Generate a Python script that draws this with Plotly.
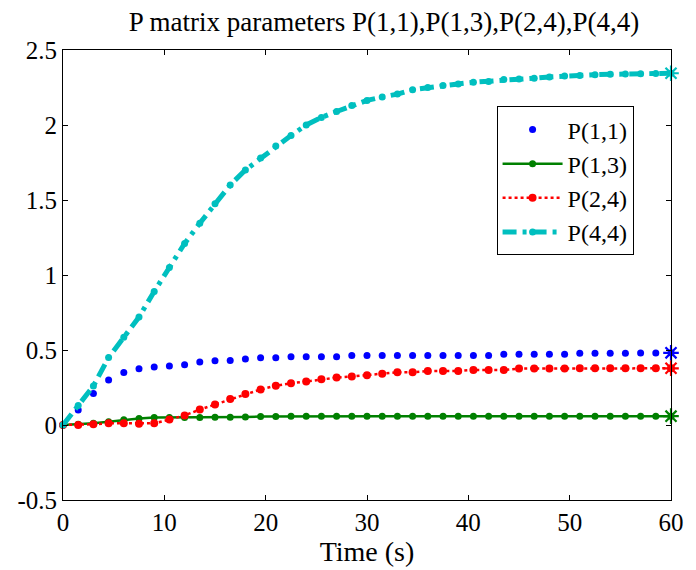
import plotly.graph_objects as go

# Time samples (s)
t = [0, 1.5, 3, 4.5, 6, 7.5, 9, 10.5, 12, 13.5, 15, 16.5, 18, 19.5, 21, 22.5, 24, 25.5,
     27, 28.5, 30, 31.5, 33, 34.5, 36, 37.5, 39, 40.5, 42, 43.5, 45, 46.5, 48, 49.5,
     51, 52.5, 54, 55.5, 57, 58.5, 60]

p11 = [0, 0.10, 0.21, 0.30, 0.35, 0.375, 0.387, 0.393, 0.402, 0.42, 0.428, 0.43, 0.44,
       0.448, 0.448, 0.455, 0.455, 0.455, 0.455, 0.463, 0.463, 0.463, 0.463, 0.463,
       0.463, 0.463, 0.463, 0.463, 0.463, 0.472, 0.472, 0.472, 0.472, 0.472, 0.478,
       0.478, 0.478, 0.478, 0.48, 0.48, 0.481]

p13 = [0, 0.005, 0.012, 0.022, 0.035, 0.043, 0.05, 0.05, 0.05, 0.05, 0.051, 0.052,
       0.054, 0.056, 0.057, 0.058, 0.058, 0.058, 0.059, 0.059, 0.059, 0.059, 0.059,
       0.059, 0.059, 0.059, 0.059, 0.059, 0.059, 0.059, 0.059, 0.059, 0.059, 0.059,
       0.059, 0.059, 0.059, 0.059, 0.059, 0.059, 0.059]

p24 = [0, 0.0, 0.005, 0.011, 0.011, 0.009, 0.011, 0.037, 0.064, 0.103, 0.136, 0.174,
       0.207, 0.237, 0.262, 0.279, 0.29, 0.305, 0.316, 0.323, 0.332, 0.341, 0.352,
       0.352, 0.36, 0.36, 0.36, 0.367, 0.367, 0.367, 0.376, 0.376, 0.376, 0.376,
       0.378, 0.378, 0.378, 0.378, 0.378, 0.378, 0.378]

p44 = [0, 0.13, 0.26, 0.45, 0.585, 0.72, 0.89, 1.05, 1.21, 1.345, 1.475, 1.6, 1.70,
       1.78, 1.86, 1.93, 2.0, 2.05, 2.09, 2.13, 2.164, 2.187, 2.206, 2.235, 2.25,
       2.263, 2.274, 2.285, 2.29, 2.303, 2.307, 2.312, 2.32, 2.327, 2.33, 2.335,
       2.338, 2.34, 2.342, 2.344, 2.345]

names = ["P(1,1)", "P(1,3)", "P(2,4)", "P(4,4)"]
colors = ["rgb(0,0,255)", "rgb(0,128,0)", "rgb(255,0,0)", "rgb(0,191,191)"]

FONT = "Liberation Serif"

fig = go.Figure()

# P(1,1): markers only
fig.add_trace(go.Scatter(x=t, y=p11, mode="markers", name=names[0],
                         marker=dict(color=colors[0], size=7), cliponaxis=False))
# P(1,3): solid with dots
fig.add_trace(go.Scatter(x=t, y=p13, mode="lines+markers", name=names[1],
                         line=dict(color=colors[1], width=2.5),
                         marker=dict(color=colors[1], size=7), cliponaxis=False))
# P(2,4): dotted with dots
fig.add_trace(go.Scatter(x=t, y=p24, mode="lines+markers", name=names[2],
                         line=dict(color=colors[2], width=2.5, dash="3px,3px"),
                         marker=dict(color=colors[2], size=8), cliponaxis=False))
# P(4,4): thick dash-dot with dots
fig.add_trace(go.Scatter(x=t, y=p44, mode="lines+markers", name=names[3],
                         line=dict(color=colors[3], width=5, dash="14px,6px,4px,6px"),
                         marker=dict(color=colors[3], size=7), cliponaxis=False))

# end star markers
for series, c in zip([p11, p13, p24, p44], colors):
    fig.add_trace(go.Scatter(x=[t[-1]], y=[series[-1]], mode="markers", showlegend=False,
                             marker=dict(symbol="asterisk-open", size=13, color=c,
                                         line=dict(color=c, width=2.2)),
                             cliponaxis=False, hoverinfo="skip"))

axis_common = dict(showline=True, linecolor="black", linewidth=1, mirror="ticks",
                   ticks="inside", ticklen=5, tickcolor="black", tickwidth=1,
                   showgrid=False, zeroline=False,
                   tickfont=dict(family=FONT, size=25, color="black"))

fig.update_layout(
    width=696, height=570,
    margin=dict(l=63, r=23, t=50, b=65),
    paper_bgcolor="white", plot_bgcolor="white",
    font=dict(family=FONT, color="black"),
    title=dict(text="P matrix parameters P(1,1),P(1,3),P(2,4),P(4,4)",
               font=dict(family=FONT, size=27, color="black"),
               x=384 / 696, xref="container", xanchor="center",
               y=1 - 22 / 570, yref="container", yanchor="middle"),
    xaxis=dict(range=[0, 60], tickvals=[0, 10, 20, 30, 40, 50, 60],
               title=dict(text="Time (s)", font=dict(family=FONT, size=28, color="black"),
                          standoff=2),
               **axis_common),
    yaxis=dict(range=[-0.5, 2.5], tickvals=[-0.5, 0, 0.5, 1, 1.5, 2, 2.5],
               ticktext=["-0.5", "0", "0.5", "1", "1.5", "2", "2.5"],
               **axis_common),
    legend=dict(x=(498 - 63) / 610, y=(505 - 107) / 455, xanchor="left", yanchor="top",
                bordercolor="black", borderwidth=1, bgcolor="white",
                font=dict(family=FONT, size=24, color="black"),
                itemwidth=60, tracegroupgap=0),
    showlegend=True,
)

fig.write_html("out.html")
